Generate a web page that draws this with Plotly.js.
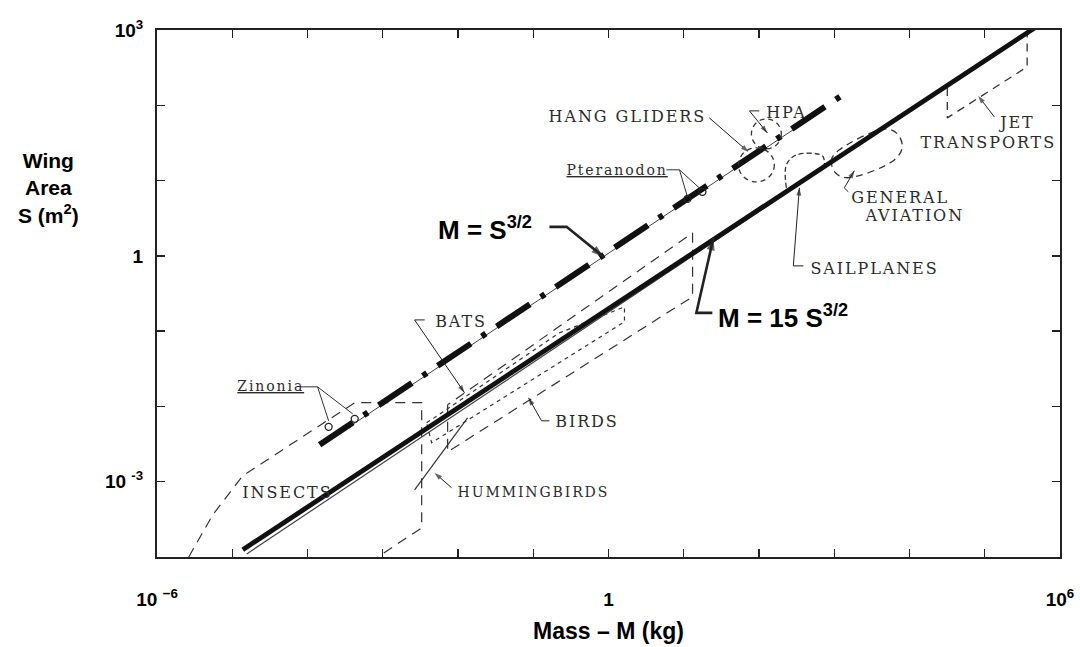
<!DOCTYPE html>
<html><head><meta charset="utf-8">
<script src="https://cdn.plot.ly/plotly-3.0.1.min.js"></script>
<style>
html,body{margin:0;padding:0;background:#fff}#chart{width:1080px;height:647px}
#chart text.annotation-text[style*="DejaVu Serif"]{letter-spacing:1.9px}
</style>
</head><body><div id="chart"></div>
<script>
// ---- tick values / labels ----
const xTickVals = [1e-6, 1, 1e6];
const xTickText = ['10 <sup>\u22126</sup>', '1', '10<sup>6</sup>'];
const xMinorVals = [1e-5,1e-4,1e-3,1e-2,1e-1,1e1,1e2,1e3,1e4,1e5];
const yTickVals = [1e-3, 1, 1e3];
const yTickText = ['10 <sup>-3</sup>', '1', '10<sup>3</sup>'];
const yMinorVals = [1e-2,1e-1,1e1,1e2];

// ---- reference lines (mass kg, wing area m^2) ----
const lineM15_M = [1.38e-5, 5.30e5];
const lineM15_S = [1.25e-4, 1.17e3];
const lineM15thin_M = [1.56e-5, 3.90e5];
const lineM15thin_S = [1.10e-4, 973];
const lineM1_M = [1.45e-4, 1.49e3];
const lineM1_S = [3.09e-3, 151];
const lineM1thin_M = [1.97e-4, 467];
const lineM1thin_S = [3.60e-3, 65.9];

// ---- group regions ----
const insects_M = [2.64e-6, 5.51e-6, 1.38e-5, 4.24e-4, 3.29e-3, 3.29e-3, 8.55e-4];
const insects_S = [1e-4, 3.63e-4, 1.20e-3, 1.12e-2, 1.12e-2, 2.44e-4, 1e-4];
const bats_M = [3.83e-3, 0.223, 1.63, 1.63, 4.46e-3, 3.83e-3];
const bats_S = [6.05e-3, 0.0948, 0.210, 0.133, 3.29e-3, 6.05e-3];
const birds_M = [7.28e-3, 7.28e-3, 13.1, 13.1, 7.28e-3];
const birds_S = [1.05e-2, 2.49e-3, 0.286, 2.02, 1.05e-2];
const humming_M = [2.65e-3, 1.34e-2];
const humming_S = [7.80e-4, 7.06e-3];
const sail_M = [231, 231, 314, 695, 739];
const sail_S = [8.0, 16.2, 21.9, 21.3, 15.7];
const genav_M = [1170, 915, 1035, 1490, 6280, 8020, 6890, 4770, 1170];
const genav_S = [25.6, 18.8, 12.7, 10.9, 18.8, 28.0, 41.7, 48.6, 25.6];
const jet_M = [3.18e4, 3.18e4, 3.66e5, 3.66e5];
const jet_S = [170, 68.0, 324, 915];
const hpa_M = [79.3, 198];      // circle bounds
const hpa_S = [26.4, 65.9];
const hang_M = [53.3, 160];     // oval bounds
const hang_S = [9.61, 27.2];

// ---- individual specimens ----
const zinonia_M = [1.91e-4, 4.24e-4];
const zinonia_S = [5.36e-3, 6.84e-3];
const pter_M = [11.2, 17.7];
const pter_S = [5.71, 7.08];

// ---- leader lines (last point = arrow tip) ----
const leadZin_M = [7.87e-5, 1.36e-4, 1.91e-4, null, 1.36e-4, 3.98e-4];
const leadZin_S = [1.82e-2, 1.82e-2, 6.44e-3, null, 1.82e-2, 7.98e-3];
const leadPter_M = [5.89, 8.77, 11.2, null, 8.77, 17.2];
const leadPter_S = [13.9, 13.9, 6.08, null, 13.9, 7.52];
const leadBats_M = [3.60e-3, 2.65e-3, 1.22e-2];
const leadBats_S = [0.141, 0.141, 1.52e-2];
const leadHum_M = [8.22e-3, 4.89e-3];
const leadHum_S = [8.30e-4, 1.31e-3];
const leadBirds_M = [0.164, 0.129, 8.66e-2];
const leadBirds_S = [6.44e-3, 6.44e-3, 1.30e-2];
const leadHang_M = [21.9, 72.3];
const leadHang_S = [68.0, 24.0];
const leadHpa_M = [101, 74.6, 129];
const leadHpa_S = [84.3, 84.3, 43.0];
const leadSail_M = [389, 286, 344];
const leadSail_S = [0.736, 0.736, 8.0];
const leadGen_M = [1540, 1360, 1850];
const leadGen_S = [7.08, 8.0, 13.5];
const leadJet_M = [1.34e5, 8.20e4];
const leadJet_S = [70.2, 133];
const leadM1_M = [0.164, 0.277, 0.859];
const leadM1_S = [2.43, 2.43, 0.970];
const leadM15_M = [24.0, 14.7, 24.8];
const leadM15_S = [0.175, 0.175, 1.73];

const traces = [];
function line(xs, ys, opt) {
  traces.push(Object.assign({type:'scatter', mode:'lines', x:xs, y:ys, hoverinfo:'skip', showlegend:false,
    line:{color:'#1a1a1a', width:1}}, opt));
}
function leader(xs, ys, w, head) {
  const sizes = xs.map((v, i) => i === xs.length - 1 ? head : 0);
  traces.push({type:'scatter', mode:'lines+markers', x:xs, y:ys, hoverinfo:'skip', showlegend:false,
    line:{color:'#222', width:w},
    marker:{symbol:'arrow', angleref:'previous', size:sizes, color:'#222', line:{width:0}}});
}
// regions
line(insects_M, insects_S, {line:{color:'#333', width:1.2, dash:'10px,7px'}});
line(bats_M, bats_S, {line:{color:'#333', width:1.2, dash:'4px,4px'}});
line(birds_M, birds_S, {line:{color:'#333', width:1.2, dash:'10px,7px'}});
line(humming_M, humming_S, {line:{color:'#333', width:1.2}});
line(sail_M, sail_S, {line:{color:'#333', width:1.3, dash:'5px,3px', shape:'spline'}});
line(genav_M, genav_S, {line:{color:'#333', width:1.3, dash:'7px,5px', shape:'spline'}});
line(jet_M, jet_S, {line:{color:'#333', width:1.3, dash:'8px,6px'}});
// main lines
line(lineM15thin_M, lineM15thin_S, {line:{color:'#444', width:1.2}});
line(lineM15_M, lineM15_S, {line:{color:'#111', width:4.8}});
line(lineM1thin_M, lineM1thin_S, {line:{color:'#444', width:1}});
line(lineM1_M, lineM1_S, {line:{color:'#111', width:6, dash:'40px,13px,5px,13px'}});
// leaders
line(leadZin_M, leadZin_S, {line:{color:'#333', width:1}});
line(leadPter_M, leadPter_S, {line:{color:'#333', width:1}});
[[leadBats_M,leadBats_S],[leadHum_M,leadHum_S],[leadBirds_M,leadBirds_S],[leadHang_M,leadHang_S],
 [leadHpa_M,leadHpa_S],[leadSail_M,leadSail_S],[leadGen_M,leadGen_S],[leadJet_M,leadJet_S]]
  .forEach(p => leader(p[0], p[1], 1, 8));
leader(leadM1_M, leadM1_S, 2.6, 13);
leader(leadM15_M, leadM15_S, 2.6, 13);
// specimen circles
traces.push({type:'scatter', mode:'markers', x:zinonia_M, y:zinonia_S, hoverinfo:'skip', showlegend:false,
  marker:{symbol:'circle-open', size:7, color:'#222', line:{width:1.3}}});
traces.push({type:'scatter', mode:'markers', x:pter_M, y:pter_S, hoverinfo:'skip', showlegend:false,
  marker:{symbol:'circle-open', size:7, color:'#222', line:{width:1.3}}});

const px = x => (x - 157) / 903;
const py = y => (557 - y) / 527;
const SERIF = 'DejaVu Serif, Liberation Serif, serif';
const BOLD = 'Liberation Sans, Arial, sans-serif';
const SPACING = 1.9;
// serif label: left edge x (pixels); compensate for css letter-spacing growing the text about its centre
function lab(text, x, y, size) {
  const n = text.replace(/<[^>]+>/g, '').length;
  return {xref:'paper', yref:'paper', x:px(x + n * SPACING / 2), y:py(y), xanchor:'left', yanchor:'middle',
    text:text, showarrow:false, font:{family:SERIF, size:size, color:'#2b2b2b'}};
}
function bold(text, x, y, size, anchor) {
  return {xref:'paper', yref:'paper', x:px(x), y:py(y), xanchor:anchor || 'left', yanchor:'middle',
    text:'<b>' + text + '</b>', showarrow:false, font:{family:BOLD, size:size, color:'#000'}};
}
const annotations = [
  lab('<u>Zinonia</u>', 235, 386, 14),
  lab('INSECTS', 240, 492, 16),
  lab('BATS', 433, 321, 16),
  lab('HUMMINGBIRDS', 456, 492, 14),
  lab('BIRDS', 553, 421, 16),
  lab('<u>Pteranodon</u>', 564, 170, 14),
  lab('HANG GLIDERS', 547, 117, 16),
  lab('HPA', 764, 112, 16),
  lab('SAILPLANES', 808, 268, 16),
  lab('GENERAL', 849, 197, 16),
  lab('AVIATION', 862, 216, 16),
  lab('JET', 996, 122, 16),
  lab('TRANSPORTS', 918, 142, 16),
  bold('M = S<sup>3/2</sup>', 436, 228, 26),
  bold('M = 15 S<sup>3/2</sup>', 716, 316, 26),
  bold('Wing<br>Area<br>S (m<sup>2</sup>)', 48, 188, 21, 'center')
];

const shapes = [
  {type:'circle', xref:'x', yref:'y', x0:hpa_M[0], x1:hpa_M[1], y0:hpa_S[0], y1:hpa_S[1],
   line:{color:'#333', width:1.3, dash:'5px,4px'}},
  {type:'circle', xref:'x', yref:'y', x0:hang_M[0], x1:hang_M[1], y0:hang_S[0], y1:hang_S[1],
   line:{color:'#333', width:1.3, dash:'5px,4px'}}
];

const axisCommon = {type:'log', showgrid:false, zeroline:false, showline:true, linecolor:'#222', linewidth:2,
  ticks:'inside', ticklen:8, tickwidth:1.3, tickcolor:'#222', mirror:'ticks', tickmode:'array',
  tickfont:{family:BOLD, size:19, color:'#000', weight:'bold'}};
const layout = {
  width:1080, height:647, paper_bgcolor:'#fff', plot_bgcolor:'#fff',
  margin:{l:157, r:20, t:30, b:90},
  xaxis:Object.assign({}, axisCommon, {range:[-6,6], tickvals:xTickVals, ticktext:xTickText, ticklabelstandoff:24,
    minor:{tickmode:'array', tickvals:xMinorVals, ticks:'inside', ticklen:8, tickwidth:1.3, tickcolor:'#222', showgrid:false},
    title:{text:'<b>Mass \u2013 M (kg)</b>', font:{family:'Liberation Sans Narrow, Liberation Sans, Arial, sans-serif', size:23, color:'#000'}, standoff:14}}),
  yaxis:Object.assign({}, axisCommon, {range:[-4,3], tickvals:yTickVals, ticktext:yTickText, ticklabelstandoff:8,
    minor:{tickmode:'array', tickvals:yMinorVals, ticks:'inside', ticklen:8, tickwidth:1.3, tickcolor:'#222', showgrid:false}}),
  annotations:annotations, shapes:shapes
};
Plotly.newPlot('chart', traces, layout, {staticPlot:true, displayModeBar:false});
</script></body></html>
